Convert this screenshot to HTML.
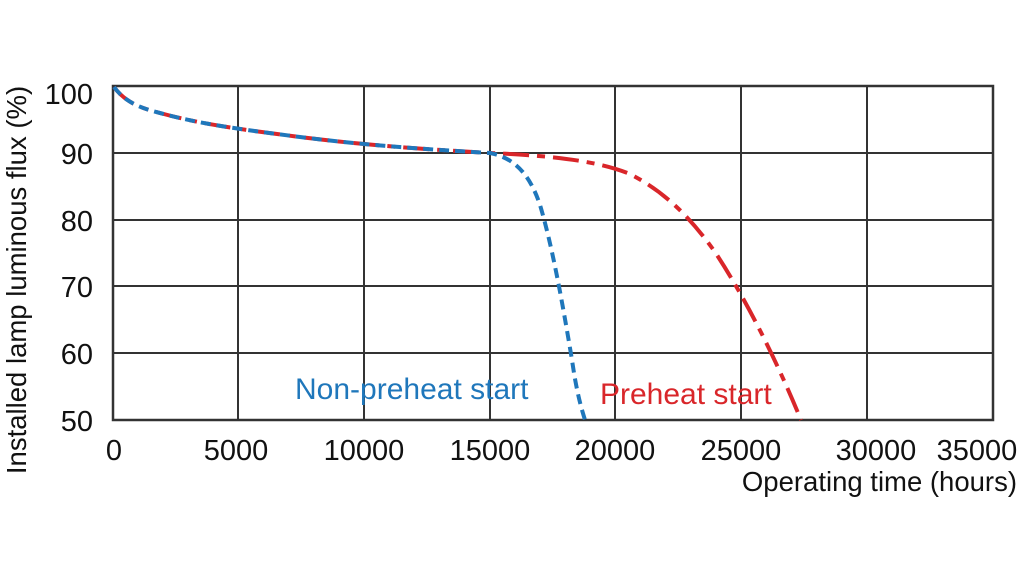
<!DOCTYPE html>
<html><head><meta charset="utf-8"><style>body{margin:0;background:#fff}svg{display:block}</style></head><body>
<svg width="1024" height="576" viewBox="0 0 1024 576" xmlns="http://www.w3.org/2000/svg" font-family="Liberation Sans, sans-serif">
<rect width="1024" height="576" fill="#fff"/>
<g stroke="#333" stroke-width="2" fill="none">
<line x1="238" y1="86" x2="238" y2="420"/><line x1="364" y1="86" x2="364" y2="420"/><line x1="490" y1="86" x2="490" y2="420"/><line x1="615" y1="86" x2="615" y2="420"/><line x1="741" y1="86" x2="741" y2="420"/><line x1="867" y1="86" x2="867" y2="420"/>
<line x1="113" y1="153" x2="993" y2="153"/><line x1="113" y1="220" x2="993" y2="220"/><line x1="113" y1="286" x2="993" y2="286"/><line x1="113" y1="353" x2="993" y2="353"/>
<rect x="113" y="86" width="880" height="334" stroke-width="2.5"/>
</g>
<path d="M114,87 C125,102 140,108 160,113 C200,124 238,129 300,137 C364,145 420,149 490,153 C560,156 600,162 630,174 C665,192 690,217 715,252 C740,290 770,345 801,420" fill="none" stroke="#d9262a" stroke-width="4" stroke-dasharray="26,8,8,8"/>
<path d="M114,87 C125,102 140,108 160,113 C200,124 238,129 300,137 C364,145 420,149 490,153 C515,158 530,175 540,205 C552,245 562,300 572,360 C577,395 582,410 585,420" fill="none" stroke="#1f77bb" stroke-width="4" stroke-dasharray="10,6"/>
<g font-size="29" fill="#111" text-anchor="end">
<text x="93" y="104">100</text><text x="93" y="164">90</text><text x="93" y="231">80</text><text x="93" y="297">70</text><text x="93" y="364">60</text><text x="93" y="431">50</text>
</g>
<g font-size="29" fill="#111" text-anchor="middle">
<text x="114" y="460">0</text><text x="236" y="460">5000</text><text x="364" y="460">10000</text><text x="490" y="460">15000</text><text x="615" y="460">20000</text><text x="741" y="460">25000</text><text x="876" y="460">30000</text><text x="977" y="460">35000</text>
</g>
<text x="1017" y="491" font-size="27.5" fill="#111" text-anchor="end">Operating time (hours)</text>
<text transform="translate(26,280) rotate(-90)" font-size="27.5" fill="#111" text-anchor="middle">Installed lamp luminous flux  (%)</text>
<text x="295" y="399" font-size="30" fill="#1f77bb">Non-preheat start</text>
<text x="600" y="404" font-size="30" fill="#d9262a">Preheat start</text>
</svg>
</body></html>
